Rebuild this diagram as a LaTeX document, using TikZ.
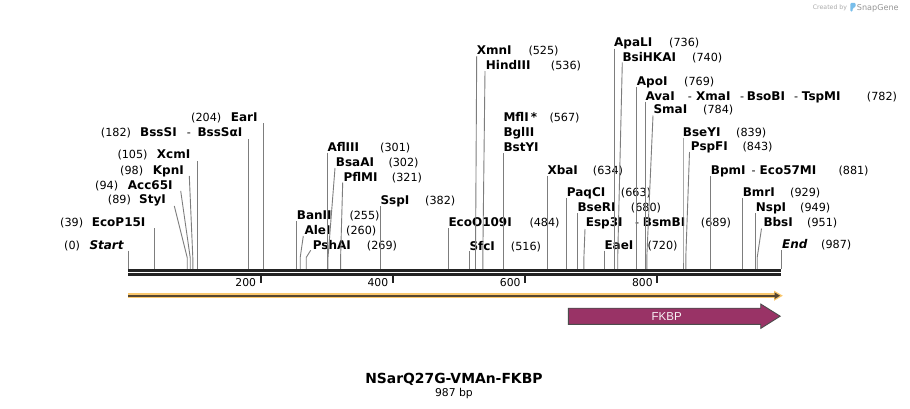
\documentclass[tikz,border=0pt]{standalone}
\usepackage{fontspec}
\setmainfont{DejaVu Sans}
\newfontfamily\libsans{Liberation Sans}
\definecolor{cutgray}{RGB}{125,125,125}
\definecolor{mapblack}{RGB}{35,35,35}
\definecolor{orangeL}{RGB}{250,200,110}
\definecolor{orangeD}{RGB}{85,70,50}
\definecolor{fkbpc}{RGB}{153,51,102}
\definecolor{sgblue}{RGB}{120,190,235}
\definecolor{sggray}{RGB}{150,150,150}
\tikzset{
 enz/.style={font=\fontsize{12}{14}\selectfont\bfseries, inner sep=0pt, anchor=base west},
 enzit/.style={enz, font=\fontsize{12}{14}\selectfont\bfseries\itshape},
 num/.style={font=\fontsize{11.2}{13}\selectfont, inner sep=0pt, anchor=base west},
 cut/.style={draw=cutgray, line width=0.9pt},
 maptick/.style={draw=mapblack, line width=1.8pt},
 ticklbl/.style={font=\fontsize{10.8}{13}\selectfont, inner sep=0pt, anchor=base east},
}
\newcommand\cutsite[4]{%
 \coordinate (#1-t) at (#2,#3);
 \coordinate (#1-k) at (#4,257.5);
 \coordinate (#1-b) at (#4,269.3);
 \draw[cut] (#1-t) -- (#1-k) -- (#1-b);}
\begin{document}
\begin{tikzpicture}[x=1pt,y=-1pt]
\useasboundingbox (0,0) rectangle (910,408);
\fill[white] (0,0) rectangle (910,408);

% ---------- left group ----------
\node[num] (n0) at (64,249.4) {(0)};
\node[enzit] (start) at (89.3,249.4) {Start};
\cutsite{start}{128.3}{250.5}{128.3}

\node[num] (n39) at (60,226.7) {(39)};
\node[enz] (ecop) at (91.7,226.7) {EcoP15I};
\cutsite{ecop}{154.3}{228}{154.3}

\node[num] (n89) at (107.7,203.7) {(89)};
\node[enz] (styi) at (139,203.7) {StyI};
\cutsite{styi}{174.3}{206}{187.2}

\node[num] (n94) at (95,189.1) {(94)};
\node[enz] (acc) at (127.7,189.1) {Acc65I};
\cutsite{acc}{180.7}{190.9}{190.2}

\node[num] (n98) at (120,174.4) {(98)};
\node[enz] (kpni) at (152.7,174.4) {KpnI};
\cutsite{kpni}{189.3}{176}{192.8}

\node[num] (n105) at (117.3,158.7) {(105)};
\node[enz] (xcmi) at (156.7,158.7) {XcmI};
\cutsite{xcmi}{197.5}{161}{197.5}

\node[num] (n182) at (100.7,136.7) {(182)};
\node[enz] (bsssi) at (140,136.7) {BssSI};
\node[num] (d182) at (186.7,136.7) {-};
\node[enz] (bsssa) at (197.3,136.7) {BssSαI};
\cutsite{bss}{248.8}{139}{248.8}

\node[num] (n204) at (191,121.1) {(204)};
\node[enz] (eari) at (230.7,121.1) {EarI};
\cutsite{eari}{263.2}{123.3}{263.2}

% ---------- middle group ----------
\node[enz] (banii) at (296.7,219.4) {BanII};
\node[num] (n255) at (349.3,219.4) {(255)};
\cutsite{banii}{296.9}{221}{296.9}

\node[enz] (alei) at (304.3,234.4) {AleI};
\node[num] (n260) at (346,234.4) {(260)};
\cutsite{alei}{303.3}{236}{300.2}

\node[enz] (pshai) at (312.7,249.6) {PshAI};
\node[num] (n269) at (366.7,249.6) {(269)};
\cutsite{pshai}{310.7}{250.3}{306.2}

\node[enz] (afliii) at (327.3,151.1) {AflIII};
\node[num] (n301) at (380,151.1) {(301)};
\cutsite{afliii}{327.4}{152.7}{327.4}

\node[enz] (bsaai) at (335.7,166.7) {BsaAI};
\node[num] (n302) at (388.3,166.7) {(302)};
\cutsite{bsaai}{335}{168}{328}

\node[enz] (pflmi) at (343.3,181.1) {PflMI};
\node[num] (n321) at (391.7,181.1) {(321)};
\cutsite{pflmi}{342.7}{182.5}{340.6}

\node[enz] (sspi) at (380.3,204.4) {SspI};
\node[num] (n382) at (425,204.4) {(382)};
\cutsite{sspi}{380.6}{206}{380.6}

\node[enz] (ecoo) at (448.3,226.7) {EcoO109I};
\node[num] (n484) at (529.3,226.7) {(484)};
\cutsite{ecoo}{448.4}{228}{448.4}

\node[enz] (sfci) at (469.3,250.1) {SfcI};
\node[num] (n516) at (510.7,250.1) {(516)};
\cutsite{sfci}{469.5}{251}{469.5}

\node[enz] (xmni) at (476.7,54.4) {XmnI};
\node[num] (n525) at (528.3,54.4) {(525)};
\cutsite{xmni}{476.7}{56}{475.5}

\node[enz] (hind) at (485.7,69.4) {HindIII};
\node[num] (n536) at (550.7,69.4) {(536)};
\cutsite{hind}{485}{71}{482.8}

\node[enz] (mfli) at (503.3,121.1) {MflI\hspace{2pt}*};
\node[num] (n567) at (549.3,121.1) {(567)};
\node[enz] (bglii) at (503.3,136.1) {BglII};
\node[enz] (bstyi) at (503.3,151.7) {BstYI};
\cutsite{mfli}{503.3}{153}{503.3}

\node[enz] (xbai) at (547.3,174.4) {XbaI};
\node[num] (n634) at (592.7,174.4) {(634)};
\cutsite{xbai}{547.5}{176}{547.5}

\node[enz] (paqci) at (566.7,196.1) {PaqCI};
\node[num] (n663) at (620.7,196.1) {(663)};
\cutsite{paqci}{566.7}{198.3}{566.7}

\node[enz] (bseri) at (577.3,211.1) {BseRI};
\node[num] (n680) at (630.7,211.1) {(680)};
\cutsite{bseri}{577.7}{213}{577.7}

\node[enz] (esp) at (585.7,226.1) {Esp3I};
\node[num] (d689) at (635,226.1) {-};
\node[enz] (bsmbi) at (642.7,226.1) {BsmBI};
\node[num] (n689) at (700.7,226.1) {(689)};
\cutsite{esp}{585}{229}{583.9}

\node[enz] (eaei) at (604.3,249.4) {EaeI};
\node[num] (n720) at (647.3,249.4) {(720)};
\cutsite{eaei}{604.4}{250.5}{604.4}

% ---------- right group ----------
\node[enz] (apali) at (614,46.7) {ApaLI};
\node[num] (n736) at (669,46.7) {(736)};
\cutsite{apali}{614.5}{48.5}{614.5}

\node[enz] (bsih) at (622.3,61.1) {BsiHKAI};
\node[num] (n740) at (692,61.1) {(740)};
\cutsite{bsih}{622.3}{62.5}{617.7}

\node[enz] (apoi) at (636.7,85.4) {ApoI};
\node[num] (n769) at (684,85.4) {(769)};
\cutsite{apoi}{636.8}{87}{636.8}

\node[enz] (avai) at (645.3,100.1) {AvaI};
\node[num] (d782a) at (687.7,100.1) {-};
\node[enz] (xmai) at (696,100.1) {XmaI};
\node[num] (d782b) at (740,100.1) {-};
\node[enz] (bsobi) at (746.7,100.1) {BsoBI};
\node[num] (d782c) at (794,100.1) {-};
\node[enz] (tspmi) at (801.7,100.1) {TspMI};
\node[num] (n782) at (866.7,100.1) {(782)};
\cutsite{avai}{645.4}{101.5}{645.4}

\node[enz] (smai) at (653.3,113.7) {SmaI};
\node[num] (n784) at (703,113.7) {(784)};
\cutsite{smai}{653}{115.5}{646.8}

\node[enz] (bseyi) at (682.7,136.1) {BseYI};
\node[num] (n839) at (736,136.1) {(839)};
\cutsite{bseyi}{683}{137.5}{683}

\node[enz] (pspfi) at (690.7,150.4) {PspFI};
\node[num] (n843) at (742.3,150.4) {(843)};
\cutsite{pspfi}{689.5}{152}{685.8}

\node[enz] (bpmi) at (710.7,174.4) {BpmI};
\node[num] (d881) at (751.5,174.4) {-};
\node[enz] (eco57) at (759.5,174.4) {Eco57MI};
\node[num] (n881) at (838.3,174.4) {(881)};
\cutsite{bpmi}{710.9}{176}{710.9}

\node[enz] (bmri) at (742.6,196.4) {BmrI};
\node[num] (n929) at (790,196.4) {(929)};
\cutsite{bmri}{742.6}{198}{742.6}

\node[enz] (nspi) at (755.7,211.1) {NspI};
\node[num] (n949) at (800,211.1) {(949)};
\cutsite{nspi}{755.9}{213}{755.9}

\node[enz] (bbsi) at (763.3,226.4) {BbsI};
\node[num] (n951) at (807,226.4) {(951)};
\cutsite{bbsi}{761.5}{228.5}{757.2}

\node[enzit] (endl) at (782,248.7) {End};
\node[num] (n987) at (821,248.7) {(987)};
\cutsite{endl}{781}{250}{781}

% ---------- map ----------
\draw[draw=mapblack, line width=2.8pt] (128.3,270.6) -- (781.2,270.6);
\draw[draw=mapblack, line width=2.2pt] (128.3,274.4) -- (781.2,274.4);
\draw[maptick] (260.6,275.4) -- (260.6,282.6);
\draw[maptick] (392.8,275.4) -- (392.8,282.6);
\draw[maptick] (525.1,275.4) -- (525.1,282.6);
\draw[maptick] (657.3,275.4) -- (657.3,282.6);
\node[ticklbl] (t200) at (256.2,286) {200};
\node[ticklbl] (t400) at (388.4,286) {400};
\node[ticklbl] (t600) at (520.7,286) {600};
\node[ticklbl] (t800) at (652.9,286) {800};

% orange sequence arrow
\draw[draw=orangeL, line width=5pt] (128.3,295.7) -- (776,295.7);
\fill[orangeL] (774,290.6) -- (782.8,295.7) -- (774,300.8) -- cycle;
\draw[draw=orangeD, line width=1.8pt] (128.3,295.7) -- (775,295.7);
\fill[orangeD] (774.5,292.3) -- (780,295.7) -- (774.5,299.1) -- cycle;

% FKBP feature
\draw[fill=fkbpc, draw=black!70, line width=0.9pt]
 (568.3,308.2) -- (760.7,308.2) -- (760.7,304) -- (780.2,316.2) -- (760.7,328.4) -- (760.7,324.3) -- (568.3,324.3) -- cycle;
\node[font=\libsans\fontsize{11.5}{13}\selectfont, text=white!94!fkbpc, inner sep=0pt] (fkbp) at (666.7,316.2) {FKBP};

% title
\node[font=\fontsize{13.9}{16}\selectfont\bfseries, inner sep=0pt, anchor=base] (title) at (453.9,383.4) {NSarQ27G-VMAn-FKBP};
\node[font=\fontsize{10.8}{13}\selectfont, inner sep=0pt, anchor=base] (bp) at (453.9,396.2) {987 bp};

% watermark
\node[font=\fontsize{6.2}{7}\selectfont, text=sggray!80, inner sep=0pt, anchor=base west] (cby) at (812.7,9.4) {Created by};
\fill[sgblue, rounded corners=1.2pt] (850.3,11.6) -- (850.3,2.8) -- (855.6,2.8) -- (855.6,7.2) -- (852.6,8) -- (852.6,11.6) -- cycle;
\node[font=\fontsize{8.1}{9}\selectfont, text=sggray, inner sep=0pt, anchor=base west] (sg) at (856.7,10.2) {SnapGene};
\end{tikzpicture}
\end{document}
